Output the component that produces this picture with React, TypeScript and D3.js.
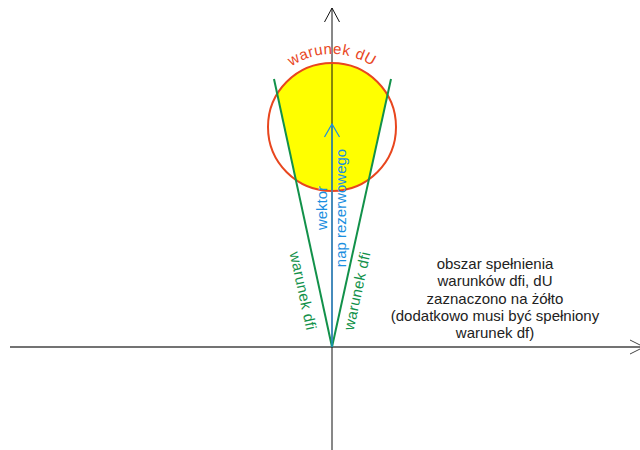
import React from 'react';
import * as d3 from 'd3';

// Diagram geometry in data units (origin at the axes crossing)
const xAxisExtent = [-322, 312];
const yAxisExtent = [-103, 339];
const wedgeLeft = [[0, 0], [-58, 268]];
const wedgeRight = [[0, 0], [59, 268]];
const circleCenter = [0, 220];
const circleRadius = 64;
const vectorEnd = [0, 223];
const infoLines = [
  'obszar spełnienia',
  'warunków dfi, dU',
  'zaznaczono na żółto',
  '(dodatkowo musi być spełniony',
  'warunek df)',
];
const infoAnchor = [163, 78];

const FONT = '"Liberation Sans", Arial, sans-serif';
const GREEN = '#12914a';
const BLUE = '#1b8fe0';
const RED = '#e8461e';

export default function App() {
  const W = 640, H = 450;
  const x = d3.scaleLinear().domain([-332, 308]).range([0, 640]);
  const y = d3.scaleLinear().domain([-103, 347]).range([450, 0]);
  const line = d3.line<number[]>().x(d => x(d[0])).y(d => y(d[1]));
  const r = x(circleRadius) - x(0);
  const cx = x(circleCenter[0]), cy = y(circleCenter[1]);

  const ext = (p: number[]) => [p[0] * 3, p[1] * 3];
  const wedgePoly = [[0, 0], ext(wedgeLeft[1]), ext(wedgeRight[1])];

  const ox = x(0), oy = y(0);
  const tr = r + 9;
  const a0 = -Math.PI * 0.8, a1 = -Math.PI * 0.2;
  const arcPath = `M ${cx + tr * Math.cos(a0)} ${cy + tr * Math.sin(a0)} A ${tr} ${tr} 0 0 1 ${cx + tr * Math.cos(a1)} ${cy + tr * Math.sin(a1)}`;

  const vTop = y(yAxisExtent[1]);
  const hRight = x(xAxisExtent[1]);
  const vecTop = y(vectorEnd[1]);

  const lineAngle = Math.atan2(wedgeLeft[1][1], -wedgeLeft[1][0]) * 180 / Math.PI;

  return (
    <svg width={W} height={H} style={{ position: 'fixed', left: 0, top: 0, background: '#fff' }}>
      <defs>
        <clipPath id="wedge">
          <path d={line(wedgePoly as number[][]) + 'Z'} />
        </clipPath>
        <path id="arcText" d={arcPath} />
      </defs>
      <circle cx={cx} cy={cy} r={r} fill="#ffff00" clipPath="url(#wedge)" />
      <line x1={x(xAxisExtent[0])} y1={oy} x2={hRight} y2={oy} stroke="#444" strokeWidth={1.3} />
      <path d={`M ${hRight - 14} ${oy - 7} L ${hRight} ${oy} L ${hRight - 14} ${oy + 7}`} fill="none" stroke="#444" strokeWidth={1} />
      <line x1={ox} y1={H} x2={ox} y2={vTop} stroke="#111" strokeWidth={1} />
      <path d={`M ${ox - 7.5} ${vTop + 14} L ${ox} ${vTop} L ${ox + 7.5} ${vTop + 14}`} fill="none" stroke="#111" strokeWidth={1} />
      <circle cx={cx} cy={cy} r={r} fill="none" stroke={RED} strokeWidth={2} />
      <path d={line(wedgeLeft) || ''} stroke={GREEN} strokeWidth={2} fill="none" />
      <path d={line(wedgeRight) || ''} stroke={GREEN} strokeWidth={2} fill="none" />
      <line x1={ox} y1={oy} x2={ox} y2={vecTop} stroke={BLUE} strokeWidth={1.2} />
      <path d={`M ${ox - 7.5} ${vecTop + 13} L ${ox} ${vecTop} L ${ox + 7.5} ${vecTop + 13}`} fill="none" stroke={BLUE} strokeWidth={1.2} />
      <text fontFamily={FONT} fontSize={15} fill={RED} letterSpacing={0.6}>
        <textPath href="#arcText" startOffset="50%" textAnchor="middle">warunek dU</textPath>
      </text>
      <text transform={`translate(${x(-10) + 5},${y(139)}) rotate(-90)`} fontFamily={FONT} fontSize={15} fill={BLUE} textAnchor="middle">wektor</text>
      <text transform={`translate(${x(9) + 5},${y(139)}) rotate(-90)`} fontFamily={FONT} fontSize={15} fill={BLUE} textAnchor="middle">nap rezerwowego</text>
      <text transform={`translate(${x(-29) - 5},${y(55)}) rotate(${lineAngle})`} fontFamily={FONT} fontSize={15} fill={GREEN} textAnchor="middle" letterSpacing={0.3}>warunek dfi</text>
      <text transform={`translate(${x(25) + 5},${y(55)}) rotate(${-lineAngle})`} fontFamily={FONT} fontSize={15} fill={GREEN} textAnchor="middle" letterSpacing={0.3}>warunek dfi</text>
      <text fontFamily={FONT} fontSize={15} fill="#222" textAnchor="middle">
        {infoLines.map((t, i) => (
          <tspan key={i} x={x(infoAnchor[0])} y={y(infoAnchor[1]) + i * 17.3}>{t}</tspan>
        ))}
      </text>
    </svg>
  );
}
